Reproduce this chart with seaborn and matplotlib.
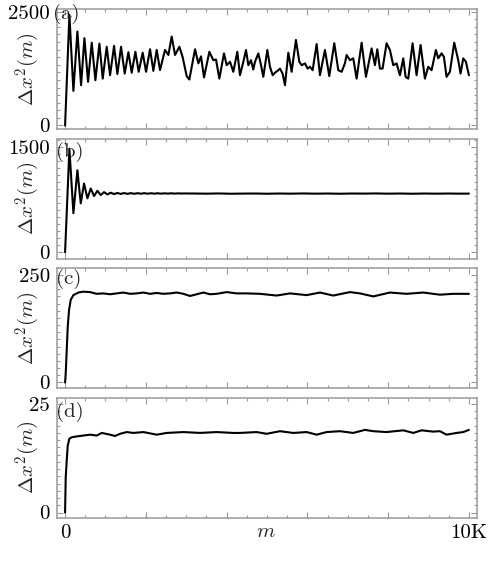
import matplotlib
matplotlib.use("Agg")
import matplotlib.pyplot as plt
from matplotlib.ticker import MultipleLocator, FixedLocator
import numpy as np
import pandas as pd
import seaborn as sns

# values, m (step) and delta x^2
m_a = [0, 107, 206, 305, 396, 479, 569, 660, 751, 850, 932, 1031, 1114, 1213,
       1295, 1386, 1477, 1568, 1650, 1741, 1823, 1922, 2005, 2104, 2186, 2269,
       2351, 2475, 2558, 2640, 2723, 2830, 2912, 3011, 3077, 3218, 3300, 3366,
       3440, 3572, 3671, 3737, 3820, 3935, 4001, 4084, 4166, 4265, 4331, 4414,
       4480, 4538, 4604, 4661, 4703, 4785, 4843, 4909, 5008, 5074, 5140, 5198,
       5280, 5321, 5387, 5445, 5528, 5610, 5717, 5800, 5858, 5940, 6006, 6064,
       6130, 6229, 6311, 6435, 6542, 6666, 6765, 6848, 6930, 6971, 7054, 7136,
       7219, 7343, 7450, 7549, 7590, 7673, 7731, 7796, 7862, 7961, 8044, 8126,
       8209, 8291, 8374, 8432, 8498, 8605, 8704, 8803, 8910, 8993, 9075, 9182,
       9240, 9323, 9380, 9446, 9529, 9636, 9735, 9793, 9859, 9925, 10000]
dx2_a = [0, 2430, 760, 2065, 885, 1920, 960, 1820, 995, 1800, 1030, 1730, 1105,
         1750, 1130, 1730, 1140, 1610, 1160, 1620, 1180, 1600, 1180, 1675, 1200,
         1660, 1217, 1660, 1550, 1955, 1550, 1730, 1500, 1085, 1010, 1675, 1365,
         1520, 1055, 1620, 1435, 1450, 1030, 1585, 1325, 1400, 1180, 1620, 1105,
         1400, 1660, 1325, 1435, 1230, 1400, 1585, 1365, 1070, 1660, 1290, 1105,
         1160, 1215, 1250, 1140, 885, 1600, 1180, 1880, 1400, 1325, 1365, 1250,
         1290, 1215, 1790, 1105, 1660, 1085, 1807, 1215, 1180, 1365, 1550, 1435,
         1475, 1030, 1820, 1070, 1510, 1695, 1325, 1675, 1250, 1250, 1807, 1660,
         1325, 1365, 1105, 1475, 1070, 1030, 1807, 1105, 1770, 1030, 1290, 1215,
         1660, 1475, 1585, 1510, 1070, 1180, 1820, 1435, 1140, 1475, 1400, 1105]

m_b = [0, 107, 206, 305, 388, 470, 553, 635, 718, 800, 883, 965, 1048, 1130,
       1213, 1296, 1379, 1462, 1545, 1628, 1711, 1794, 1877, 1960, 2043, 2126,
       2209, 2292, 2375, 2458, 2541, 2624, 2707, 2790, 2873, 2956, 3200, 3500,
       3800, 4100, 4400, 4700, 5000, 5300, 5600, 5900, 6200, 6500, 6800, 7100,
       7400, 7700, 8000, 8300, 8600, 8900, 9200, 9500, 9800, 10000]
dx2_b = [0, 1476, 557, 1170, 698, 981, 769, 910, 802, 877, 816, 858, 825, 850,
         830, 846, 832, 845, 833, 844, 834, 843, 835, 843, 835, 842, 836, 842,
         836, 841, 837, 841, 837, 840, 838, 839, 838, 836, 839, 835, 837, 838,
         835, 838, 836, 839, 836, 838, 835, 838, 837, 839, 836, 838, 835, 838,
         836, 838, 836, 837]

m_c = [0, 16, 41, 66, 99, 140, 206, 330, 454, 619, 784, 949, 1114, 1279, 1444,
       1609, 1774, 1939, 2104, 2269, 2434, 2599, 2764, 2929, 3094, 3259, 3424,
       3589, 3754, 4001, 4249, 4496, 4826, 5239, 5569, 5981, 6311, 6641, 7054,
       7301, 7631, 8044, 8456, 8869, 9281, 9611, 10000]
dx2_c = [0, 21, 76, 130, 169, 192, 203, 209, 211, 210, 206, 207, 205, 207, 209,
         206, 207, 209, 206, 208, 206, 207, 209, 206, 201, 205, 209, 205, 206,
         210, 207, 207, 206, 202, 207, 203, 209, 202, 210, 207, 200, 209, 206,
         209, 204, 206, 206]

m_d = [0, 16, 41, 66, 107, 165, 289, 454, 619, 784, 908, 1114, 1238, 1361,
       1526, 1691, 1939, 2269, 2516, 2929, 3341, 3754, 4166, 4331, 4744, 4991,
       5321, 5651, 5981, 6229, 6476, 6806, 7136, 7425, 7631, 7961, 8374, 8621,
       8828, 9116, 9281, 9446, 9694, 9859, 10000]
dx2_d = [0, 8.1, 12.0, 15.4, 17.0, 17.3, 17.5, 17.7, 17.9, 17.7, 18.3, 17.9,
         17.6, 18.1, 18.5, 18.3, 18.5, 17.9, 18.3, 18.5, 18.3, 18.5, 18.3, 18.3,
         18.5, 18.1, 18.7, 18.3, 18.5, 17.9, 18.5, 18.7, 18.3, 19.0, 18.7, 18.5,
         18.9, 18.3, 18.9, 18.6, 18.7, 17.9, 18.3, 18.5, 19.0]

panel_labels = ["(a)", "(b)", "(c)", "(d)"]
y_max = [2500, 1500, 250, 25]
x_ticklabels = ["0", "10K"]

sns.set_style("ticks")
plt.rcParams["font.family"] = ["cmr10", "DejaVu Serif"]
plt.rcParams["mathtext.fontset"] = "cm"
plt.rcParams["axes.unicode_minus"] = False
plt.rcParams["axes.formatter.use_mathtext"] = True

W, H = 494, 587
fig = plt.figure(figsize=(W / 100, H / 100), dpi=100)

# panel boxes in pixels: (top, bottom)
boxes = [(9, 129), (138.5, 258.5), (268, 388), (397.5, 517.5)]
ylims = [(-77, 2560), (-89, 1623), (-12.8, 266), (-1.15, 26.45)]
label_off = [4.5, 13.5, 11, 14]
label_x = [66, 69.5, 68.5, 69.5]
series = [(m_a, dx2_a), (m_b, dx2_b), (m_c, dx2_c), (m_d, dx2_d)]

frame_col = "#9a9a9a"
for i, ((top, bot), (m, v)) in enumerate(zip(boxes, series)):
    ax = fig.add_axes([57 / W, 1 - bot / H, 420 / W, (bot - top) / H])
    df = pd.DataFrame({"m": m, "dx2": v})
    sns.lineplot(data=df, x="m", y="dx2", ax=ax, color="black", lw=1.5,
                 estimator=None, sort=False)
    ax.set_xlim(-200, 10200)
    ax.set_ylim(*ylims[i])
    ax.set_xlabel("")
    ax.set_ylabel("")

    ax.xaxis.set_major_locator(FixedLocator([0, 2000, 4000, 6000, 8000, 10000]))
    ax.xaxis.set_minor_locator(MultipleLocator(500))
    if i == 3:
        ax.set_xticklabels(["0", "", "", "", "", "10K"])
    else:
        ax.set_xticklabels([])
    ax.set_yticks([0, y_max[i]])
    ax.set_yticklabels(["0", str(y_max[i])])
    ax.yaxis.set_minor_locator(MultipleLocator(y_max[i] / 15))

    ax.tick_params(which="both", direction="in", top=True, right=True,
                   color=frame_col, width=0.8, labelsize=15, labelcolor="black")
    ax.tick_params(which="major", length=4.5, pad=5)
    ax.tick_params(which="minor", length=2.5)
    for sp in ax.spines.values():
        sp.set_color(frame_col)
        sp.set_linewidth(1.1)

    ax.text(-0.069, 0.5, r"$\Delta x^2(m)$", transform=ax.transAxes,
            rotation=90, ha="center", va="center", fontsize=15)
    ax.text((label_x[i] - 57) / 420, 1 - label_off[i] / (bot - top),
            panel_labels[i], transform=ax.transAxes, ha="center", va="center",
            fontsize=15)

fig.text(266 / W, 1 - 537 / H, r"$m$", ha="center", va="baseline", fontsize=15)

fig.savefig("out.png", dpi=100)
